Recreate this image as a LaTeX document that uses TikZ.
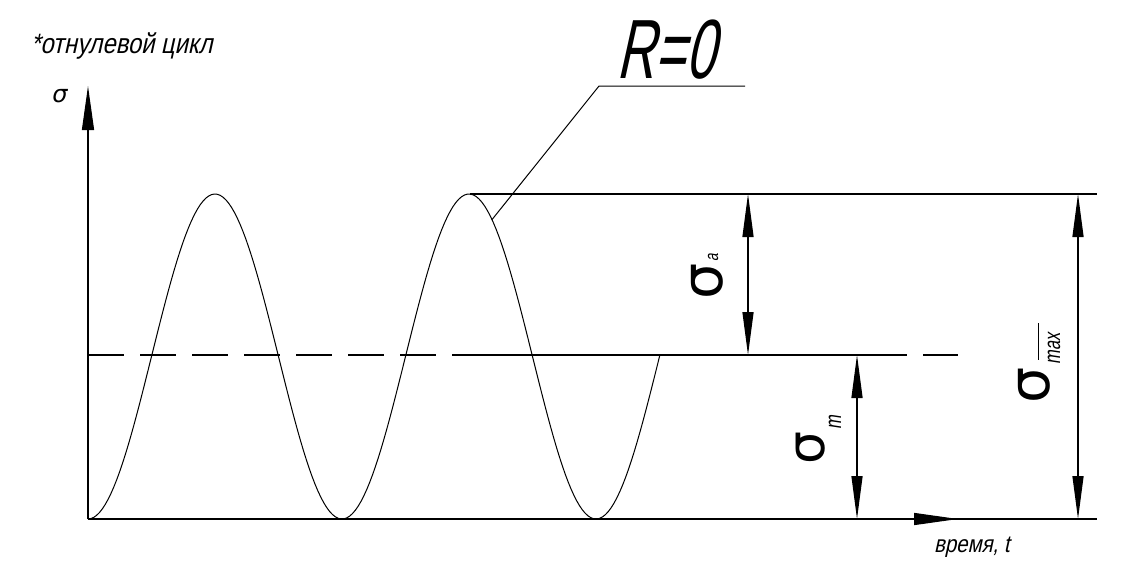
\documentclass[tikz,border=0pt]{standalone}
\usepackage{fontspec}
\usetikzlibrary{arrows.meta}
\newfontfamily\gostA[FakeStretch=0.85,FakeSlant=0.22]{Liberation Sans}
\newfontfamily\gostR[FakeStretch=0.63,FakeSlant=0.22]{Liberation Sans}
\newfontfamily\gostS[FakeStretch=0.72,FakeSlant=0.15]{Liberation Sans}
\newfontfamily\sigfont{DejaVu Sans}
\tikzset{
  ln/.style={line width=1.3pt},
  thin ln/.style={line width=1pt},
  dimtip/.tip={Triangle[length=43pt,width=11pt]},
  dimline/.style={ln,{dimtip}-{dimtip}},
  axisarrow/.style={ln,-{Triangle[length=44pt,width=12pt]}},
  lbl/.style={inner sep=0pt,outer sep=0pt},
}
\begin{document}
\begin{tikzpicture}[x=1pt,y=-1pt]
\useasboundingbox (0,0) rectangle (1126,563);
% key points
\coordinate (O) at (88,519);
\coordinate (Ytip) at (88,86);
\coordinate (Xend) at (1097,519);
\coordinate (Xa) at (913,519);
\coordinate (Xb) at (958,519);
\coordinate (Tstart) at (470,194);
\coordinate (Tend) at (1097,194);
\coordinate (M0) at (88,355);
\coordinate (M1) at (452,355);
\coordinate (M2) at (907,355);
\coordinate (M3) at (923,355);
\coordinate (M4) at (958,355);
% axes
\draw[ln] (O) -- (Xend);
\draw[axisarrow] (Xa) -- (Xb);
\draw[axisarrow] (O) -- (Ytip);
% top line
\draw[ln] (Tstart) -- (Tend);
% mean line
\draw[ln,dash pattern=on 36pt off 16pt] (M0) -- (M1);
\draw[ln] (M1) -- (M2);
\draw[ln] (M3) -- (M4);
% curve
\draw[thin ln,samples=200,domain=88:660] plot (\x,{519-162.5*(1-cos(1.417323*(\x-88)))});
% leader
\coordinate (L0) at (492,{519-162.5*(1-cos(1.417323*(492-88)))});
\coordinate (L1) at (599,86);
\coordinate (L2) at (745,86);
\draw[thin ln] (L0) -- (L1) -- (L2);
\node[lbl,anchor=south west] (R) at (616,79) {\gostR\fontsize{84}{84}\selectfont R=0};
% dimension lines
\coordinate (Da1) at (748,194);
\coordinate (Da2) at (748,355);
\coordinate (Dm1) at (857,355);
\coordinate (Dm2) at (857,519);
\coordinate (Dx1) at (1078,194);
\coordinate (Dx2) at (1078,519);
\draw[dimline] (Da1) -- (Da2);
\draw[dimline] (Dm1) -- (Dm2);
\draw[dimline] (Dx1) -- (Dx2);
% labels
\node[lbl] (sa) at (707.5,281.5) [rotate=90] {\sigfont\fontsize{57}{57}\selectfont σ};
\node[lbl] (sasub) at (713,258) [rotate=90] {\gostS\fontsize{19}{19}\selectfont a};
\node[lbl] (sm) at (810.5,448) [rotate=90] {\sigfont\fontsize{52}{52}\selectfont σ};
\node[lbl] (smsub) at (835,422.5) [rotate=90] {\gostS\fontsize{23}{23}\selectfont m};
\node[lbl] (sx) at (1034,385) [rotate=90] {\sigfont\fontsize{57}{57}\selectfont σ};
\node[lbl] (sxsub) at (1054,348.5) [rotate=90] {\gostS\fontsize{23}{23}\selectfont max};
\coordinate (ov1) at (1038,323);
\coordinate (ov2) at (1038,360);
\draw[thin ln] (ov1) -- (ov2);
\node[lbl] (sy) at (60,96) {\sigfont\fontsize{24}{24}\selectfont\itshape σ};
\node[lbl,anchor=base west] (title) at (31,53) {\gostA\fontsize{28}{28}\selectfont *отнулевой цикл};
\node[lbl,anchor=base west] (time) at (934,552) {\gostA\fontsize{24}{24}\selectfont время, t};
\end{tikzpicture}
\end{document}
